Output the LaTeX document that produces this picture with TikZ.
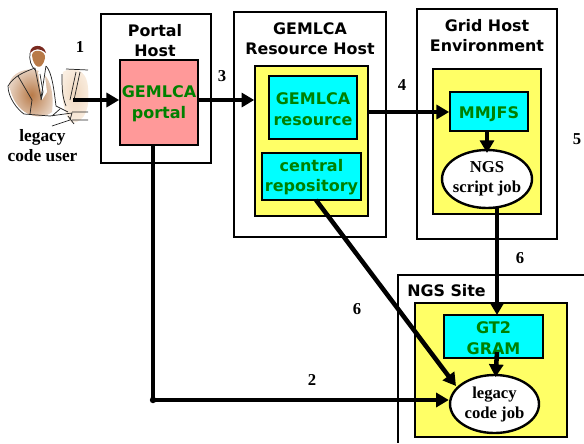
\documentclass[tikz,border=0pt]{standalone}
\usepackage{fontspec}
\setmainfont{Liberation Serif}
\newfontfamily\boxfont{DejaVu Sans}
\usetikzlibrary{arrows.meta,shapes.geometric}
\definecolor{pinkfill}{HTML}{FF9999}
\definecolor{yel}{HTML}{FFFF66}
\definecolor{cyn}{HTML}{00FFFF}
\definecolor{grn}{HTML}{008000}
\definecolor{skin}{HTML}{B87A48}
\definecolor{skinlight}{HTML}{F6E2CC}
\definecolor{hair}{HTML}{7A2A20}
\tikzset{
  host/.style={draw=black,line width=1.2pt,fill=white},
  panel/.style={draw=black,line width=1.1pt,fill=yel},
  comp/.style={draw=black,line width=1.3pt,fill=cyn,inner sep=0pt},
  comptext/.style={font=\boxfont\bfseries\fontsize{12}{15.5}\selectfont,text=grn,align=center,inner sep=0pt},
  title/.style={font=\boxfont\bfseries\fontsize{11.9}{15}\selectfont,align=center,inner sep=0pt},
  jobnode/.style={draw=black,line width=1.8pt,fill=white,ellipse,inner sep=-8pt,font=\bfseries\fontsize{12.5}{15}\selectfont,align=center},
  num/.style={font=\bfseries\fontsize{12.5}{14}\selectfont,inner sep=0pt},
  flow/.style={line width=3.4pt,-{Triangle[length=9.5pt,width=10.5pt]}},
  sk/.style={line width=.55pt,draw=black!85},
}
\begin{document}
\begin{tikzpicture}[x=.75pt,y=-.75pt]
\useasboundingbox (0,0) rectangle (584,443);
% hosts
\node[host,minimum width=82.5pt,minimum height=111.75pt] (ph) at (156,88.5) {};
\node[host,minimum width=114pt,minimum height=168.75pt] (rh) at (310,124.5) {};
\node[host,minimum width=105pt,minimum height=172.5pt] (gh) at (487,124) {};
\draw[line width=1.2pt,fill=white] (584,275) -- (398,275) -- (398,443);
% panels
\node[panel,minimum width=84.75pt,minimum height=112.5pt] (ry) at (311.5,141) {};
\node[panel,minimum width=81pt,minimum height=108.75pt] (gy) at (487,141.5) {};
\node[panel,minimum width=114pt,minimum height=100.5pt] (sy) at (491,370) {};
% titles
\node[title] (pt) at (155,41) {Portal\\Host};
\node[title] (rt) at (310,38.5) {GEMLCA\\Resource Host};
\node[title] (gt) at (487,36) {Grid Host\\Environment};
\node[title,anchor=west] (st) at (407,291) {NGS Site};
% components
\node[comp,fill=pinkfill,minimum width=58.5pt,minimum height=63.75pt] (portal) at (159,102.5) {};
\node[comptext] (portalt) at (159,104) {GEMLCA\\portal};
\node[comp,minimum width=66pt,minimum height=47.25pt] (res) at (313,107.5) {};
\node[comptext] (rest) at (313,109.5) {GEMLCA\\resource};
\node[comp,minimum width=74.25pt,minimum height=35.25pt] (repo) at (311.5,176.5) {};
\node[comptext] (repot) at (311.5,177) {central\\repository};
\node[comp,minimum width=58.5pt,minimum height=29.25pt] (mmjfs) at (489,111.5) {};
\node[comptext] (mmjfst) at (489,114) {MMJFS};
\node[comp,minimum width=74.25pt,minimum height=32.25pt] (gram) at (493.5,336.5) {};
\node[comptext] (gramt) at (493.5,338) {GT2\\GRAM};
\node[jobnode,minimum width=67.5pt,minimum height=43.5pt] (ngs) at (487,179) {NGS\\script job};
\node[jobnode,minimum width=66.75pt,minimum height=43.5pt] (leg) at (494.5,404) {legacy\\code job};
% user picture
\begin{scope}
\shade[inner color=skin,outer color=skin!35] (9,84) .. controls (12,72) and (26,68) .. (36,70) .. controls (52,74) and (54,96) .. (52,112) .. controls (40,122) and (14,116) .. (9,84) -- cycle;
\shade[inner color=skinlight!90!skin,outer color=skinlight!60] (63,72) .. controls (72,66) and (87,68) .. (88,88) .. controls (90,106) and (86,122) .. (72,123) .. controls (64,118) and (60,92) .. (63,72) -- cycle;
\fill[skin] (32,55) .. controls (33,68) and (42,72) .. (45,58) .. controls (46,50) and (33,48) .. (32,55) -- cycle;
\fill[white] (38,72) -- (44,68) -- (47,92) -- (42,100) -- cycle;
\fill[hair] (30,53) .. controls (30,44) and (44,43) .. (46,53) .. controls (40,48) and (35,48) .. (30,53) -- cycle;
\draw[sk] (30,53) .. controls (29,60) and (31,66) .. (35,70);
\draw[sk] (35,68) .. controls (24,72) and (14,76) .. (8,86) .. controls (8,98) and (18,110) .. (24,114) -- (50,116);
\draw[sk] (35,68) -- (41,98) -- (46,66);
\draw[sk] (46,66) .. controls (52,72) and (54,90) .. (56,106) -- (68,112);
\draw[sk] (40,74) -- (43,92) -- (41,100) (18,76) -- (32,100) -- (30,114);
\draw[sk] (50,116) -- (72,113) -- (70,120) -- (52,126) (52,116) -- (60,109);
\draw[sk] (62,74) .. controls (62,88) and (62,96) .. (66,106);
\draw[sk] (66,69) -- (88,70) (76,72) -- (70,100) (80,72) -- (74,100);
\draw[sk] (72,112) -- (88,112) (72,120) -- (88,120) (68,116) -- (74,124);
\end{scope}
\node[font=\bfseries\fontsize{13}{15}\selectfont,align=center,inner sep=0pt] (user) at (42.5,146) {legacy\\code user};
\coordinate (userout) at (73,100);
% connectors
\coordinate (turn) at (153,400);
\coordinate (portalb) at (153,145);
\coordinate (resout) at (368,112);
\coordinate (repoout) at (316,200);
\coordinate (legin) at (456,386);
\coordinate (ngsout) at (497,208);
\coordinate (gramin) at (497,315);
\coordinate (gramout) at (497,352);
\coordinate (legtop) at (495.5,377);
\coordinate (mmout) at (487,131);
\coordinate (ngstop) at (487,153);
\draw[flow] (userout) -- (portal.west |- userout);
\draw[flow] (portal.east |- userout) -- (ry.west |- userout);
\draw[flow] (resout) -- (mmjfs.west |- resout);
\draw[flow] (mmout) -- (ngstop);
\draw[flow] (ngsout) -- (gramin);
\draw[flow] (gramout) -- (legtop);
\draw[flow] (repoout) -- (legin);
\draw[flow,line join=round] (portalb) -- (turn) -- (leg.west |- turn);
\fill (turn) circle (2.4pt);
% numbers
\node[num] (n1) at (80,47) {1};
\node[num] (n3) at (222,76) {3};
\node[num] (n4) at (402,85) {4};
\node[num] (n5) at (577,139) {5};
\node[num] (n6a) at (520,258) {6};
\node[num] (n6b) at (357,309) {6};
\node[num] (n2) at (312,380) {2};
\end{tikzpicture}
\end{document}
